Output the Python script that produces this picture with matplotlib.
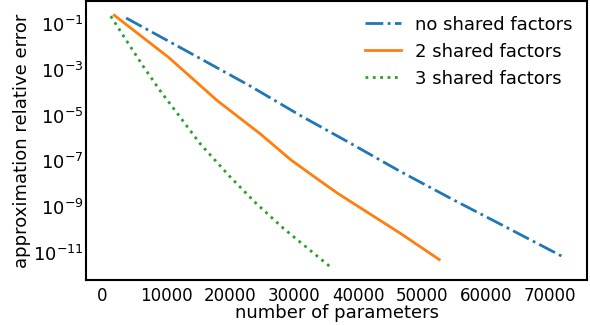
import matplotlib
matplotlib.use("Agg")
from matplotlib import pyplot as plt

# number of parameters vs. approximation relative error
params_none = [3750, 12000, 23100, 31000, 38500, 46300, 55000, 63500, 72100]
err_none = [1.86e-1, 1.02e-2, 2.0e-4, 1.0e-5, 6.9e-7, 4.0e-8, 2.0e-9, 1.17e-10, 6.5e-12]

params_two = [1900, 10400, 18000, 24700, 29600, 33500, 36800, 42000, 46600, 52700]
err_two = [2.45e-1, 3.5e-3, 4.5e-5, 1.6e-6, 1.1e-7, 1.8e-8, 4.0e-9, 4.7e-10, 7.1e-11, 5.0e-12]

params_three = [1350, 3860, 6450, 9060, 11830, 15310, 20000, 24060, 28330, 35520]
err_three = [2.24e-1, 1.8e-2, 1.4e-3, 1.23e-4, 1.17e-5, 5.9e-7, 2.1e-8, 1.45e-9, 1.17e-10, 2.6e-12]

plt.rcParams['font.size'] = 13

fig = plt.figure(figsize=(5.9, 3.25), dpi=100)
ax = fig.add_axes([0.146, 0.138, 0.849, 0.858])

ax.plot(params_none, err_none, linestyle='-.', color='tab:blue', lw=2, label='no shared factors')
ax.plot(params_two, err_two, linestyle='-', color='tab:orange', lw=2, label='2 shared factors')
ax.plot(params_three, err_three, linestyle=':', color='tab:green', lw=2, label='3 shared factors')

ax.set_yscale('log')
ax.set_ylim(10**-12.2, 10**0.0)
ax.set_xlim(-2500, 75800)
ax.set_yticks([1e-1, 1e-3, 1e-5, 1e-7, 1e-9, 1e-11])
ax.minorticks_off()
ax.set_xticks(range(0, 70001, 10000))

ax.tick_params(axis='x', length=0, pad=5, labelsize=12)
ax.tick_params(axis='y', length=0, pad=2, labelsize=13)
for s in ax.spines.values():
    s.set_linewidth(1.5)
    s.set_color('black')

ax.set_xlabel('number of parameters', labelpad=-1)
ax.set_ylabel('approximation relative error', labelpad=1)
ax.legend(loc='upper right', frameon=False, borderaxespad=0.4)

fig.savefig('out.png', dpi=100)
